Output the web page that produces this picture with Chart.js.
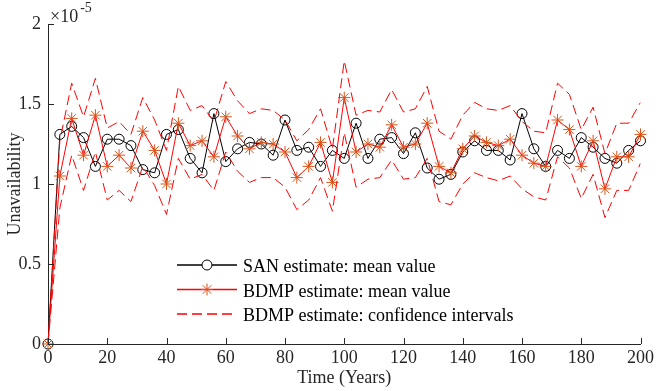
<!DOCTYPE html>
<html>
<head>
<meta charset="utf-8">
<script src="https://cdn.jsdelivr.net/npm/chart.js@4.4.1/dist/chart.umd.min.js"></script>
<style>
    html, body { margin: 0; padding: 0; background: #fff; }
    #wrap { width: 657px; height: 391px; position: relative; }
</style>
</head>
<body>
<div id="wrap"><canvas id="unavChart"></canvas></div>
<script>
// Time points (years)
const years = [0, 4, 8, 12, 16, 20, 24, 28, 32, 36, 40, 44, 48, 52, 56, 60, 64, 68, 72, 76,
    80, 84, 88, 92, 96, 100, 104, 108, 112, 116, 120, 124, 128, 132, 136, 140, 144, 148, 152, 156,
    160, 164, 168, 172, 176, 180, 184, 188, 192, 196, 200];

// Unavailability values, in units of 1e-5
const sanMean = [0, 1.31, 1.36, 1.29, 1.11, 1.28, 1.28, 1.24, 1.09, 1.07, 1.31, 1.34, 1.16, 1.07, 1.44, 1.14, 1.22, 1.26, 1.25, 1.18,
    1.40, 1.21, 1.23, 1.11, 1.21, 1.16, 1.38, 1.16, 1.28, 1.29, 1.19, 1.32, 1.10, 1.03, 1.06, 1.20, 1.27, 1.21, 1.21, 1.15,
    1.44, 1.22, 1.11, 1.21, 1.16, 1.29, 1.23, 1.16, 1.13, 1.21, 1.27];

const bdmpMean = [0, 1.05, 1.41, 1.18, 1.43, 1.11, 1.18, 1.10, 1.33, 1.21, 1.00, 1.38, 1.24, 1.27, 1.17, 1.42, 1.30, 1.22, 1.26, 1.25,
    1.20, 1.04, 1.11, 1.26, 1.01, 1.54, 1.20, 1.25, 1.23, 1.37, 1.23, 1.25, 1.38, 1.11, 1.07, 1.22, 1.30, 1.26, 1.24, 1.28,
    1.18, 1.13, 1.11, 1.40, 1.34, 1.11, 1.27, 0.97, 1.17, 1.17, 1.31];

const bdmpUpper = [0, 1.27, 1.63, 1.42, 1.66, 1.35, 1.39, 1.31, 1.54, 1.40, 1.21, 1.61, 1.46, 1.49, 1.39, 1.64, 1.52, 1.44, 1.47, 1.46,
    1.40, 1.27, 1.34, 1.47, 1.22, 1.77, 1.43, 1.46, 1.45, 1.59, 1.45, 1.47, 1.61, 1.33, 1.28, 1.43, 1.51, 1.47, 1.46, 1.49,
    1.39, 1.33, 1.32, 1.63, 1.56, 1.34, 1.48, 1.19, 1.38, 1.38, 1.51];

const bdmpLower = [0, 0.85, 1.18, 0.96, 1.20, 0.90, 0.96, 0.89, 1.11, 0.99, 0.81, 1.16, 1.03, 1.06, 0.96, 1.20, 1.08, 1.01, 1.04, 1.04,
    0.98, 0.84, 0.90, 1.04, 0.83, 1.32, 0.98, 1.03, 1.04, 1.15, 1.03, 1.04, 1.16, 0.89, 0.87, 1.00, 1.07, 1.04, 1.02, 1.05,
    0.97, 0.92, 0.90, 1.17, 1.10, 0.91, 1.06, 0.79, 0.96, 0.96, 1.13];

const xTicks = [0, 20, 40, 60, 80, 100, 120, 140, 160, 180, 200];
const yTicks = [0, 0.5, 1, 1.5, 2];

const FONT = 'Liberation Serif';
const AXIS_COLOR = '#262626';
const ORANGE = '#D95319';
const DASH = [10, 5];

function pairs(ys) {
    return years.map((x, i) => ({ x: x, y: ys[i] }));
}

// Draw the inward tick marks, the x10^-5 multiplier and the legend
const extrasPlugin = {
    id: 'extras',
    afterDraw(chart) {
        const ctx = chart.ctx;
        const xs = chart.scales.x;
        const ys = chart.scales.y;
        const area = chart.chartArea;
        ctx.save();

        // tick marks pointing into the plot
        ctx.strokeStyle = AXIS_COLOR;
        ctx.lineWidth = 1;
        ctx.beginPath();
        xTicks.forEach(v => {
            const px = Math.round(xs.getPixelForValue(v)) + 0.5;
            ctx.moveTo(px, area.bottom);
            ctx.lineTo(px, area.bottom - 6);
        });
        yTicks.forEach(v => {
            const py = Math.round(ys.getPixelForValue(v)) + 0.5;
            ctx.moveTo(area.left, py);
            ctx.lineTo(area.left + 6, py);
        });
        ctx.stroke();

        // exponent label
        ctx.fillStyle = AXIS_COLOR;
        ctx.textBaseline = 'alphabetic';
        ctx.textAlign = 'left';
        ctx.font = '18px "' + FONT + '"';
        ctx.fillText('\u00d710', 50, 22);
        const w = ctx.measureText('\u00d710').width;
        ctx.font = '14px "' + FONT + '"';
        ctx.fillText('-5', 50 + w + 2, 12);

        // legend
        const rows = [
            { label: 'SAN estimate: mean value', color: '#000000', dash: [], marker: 'circle' },
            { label: 'BDMP estimate: mean value', color: '#FF0000', dash: [], marker: 'star' },
            { label: 'BDMP estimate: confidence intervals', color: '#FF0000', dash: DASH, marker: null }
        ];
        const x0 = 177, x1 = 237, tx = 243;
        rows.forEach((r, i) => {
            const y = 265 + i * 24.5;
            ctx.strokeStyle = r.color;
            ctx.lineWidth = 1.5;
            ctx.setLineDash(r.dash);
            ctx.beginPath();
            ctx.moveTo(x0, y);
            ctx.lineTo(x1, y);
            ctx.stroke();
            ctx.setLineDash([]);
            const mx = (x0 + x1) / 2;
            if (r.marker === 'circle') {
                ctx.strokeStyle = '#000';
                ctx.fillStyle = '#fff';
                ctx.lineWidth = 1;
                ctx.beginPath();
                ctx.arc(mx, y, 5, 0, Math.PI * 2);
                ctx.fill();
                ctx.stroke();
            } else if (r.marker === 'star') {
                ctx.strokeStyle = ORANGE;
                ctx.lineWidth = 1;
                ctx.beginPath();
                const s = 6, d = s * 0.7071;
                ctx.moveTo(mx - s, y); ctx.lineTo(mx + s, y);
                ctx.moveTo(mx, y - s); ctx.lineTo(mx, y + s);
                ctx.moveTo(mx - d, y - d); ctx.lineTo(mx + d, y + d);
                ctx.moveTo(mx - d, y + d); ctx.lineTo(mx + d, y - d);
                ctx.stroke();
            }
            ctx.fillStyle = '#000';
            ctx.font = '18px "' + FONT + '"';
            ctx.fillText(r.label, tx, y + 7);
        });
        ctx.restore();
    }
};

function createChart() {
    const ctx = document.getElementById('unavChart').getContext('2d');

    new Chart(ctx, {
        type: 'line',
        data: {
            datasets: [{
                label: 'SAN estimate: mean value',
                data: pairs(sanMean),
                borderColor: '#000000',
                borderWidth: 1,
                pointStyle: 'circle',
                pointRadius: 5,
                pointBorderColor: '#000000',
                pointBackgroundColor: 'rgba(0,0,0,0)',
                pointBorderWidth: 1,
                tension: 0,
                clip: false,
                order: 3
            }, {
                label: 'BDMP estimate: mean value',
                data: pairs(bdmpMean),
                borderColor: '#FF0000',
                borderWidth: 1,
                pointStyle: 'star',
                pointRadius: 6,
                pointBorderColor: ORANGE,
                pointBackgroundColor: ORANGE,
                pointBorderWidth: 1,
                tension: 0,
                clip: false,
                order: 2
            }, {
                label: 'BDMP estimate: confidence intervals',
                data: pairs(bdmpUpper),
                borderColor: '#FF0000',
                borderWidth: 1,
                borderDash: DASH,
                pointRadius: 0,
                tension: 0,
                order: 1
            }, {
                label: 'BDMP lower',
                data: pairs(bdmpLower),
                borderColor: '#FF0000',
                borderWidth: 1,
                borderDash: DASH,
                pointRadius: 0,
                tension: 0,
                order: 1
            }]
        },
        options: {
            responsive: true,
            maintainAspectRatio: false,
            animation: false,
            devicePixelRatio: 1,
            layout: { padding: { top: 24, right: 14, left: 0, bottom: 0 } },
            plugins: {
                legend: { display: false },
                tooltip: { enabled: false }
            },
            scales: {
                x: {
                    type: 'linear',
                    min: 0,
                    max: 200,
                    afterBuildTicks: scale => { scale.ticks = xTicks.map(v => ({ value: v })); },
                    afterFit: scale => { scale.height = 47; },
                    ticks: {
                        color: AXIS_COLOR,
                        font: { family: FONT, size: 18 },
                        padding: 3,
                        maxRotation: 0,
                        autoSkip: false,
                        callback: v => String(v)
                    },
                    grid: { display: false, drawTicks: false },
                    border: { display: true, color: AXIS_COLOR, width: 1 },
                    title: {
                        display: true,
                        text: 'Time (Years)',
                        color: AXIS_COLOR,
                        font: { family: FONT, size: 18 },
                        padding: { top: 0, bottom: 2 }
                    }
                },
                y: {
                    type: 'linear',
                    min: 0,
                    max: 2,
                    afterBuildTicks: scale => { scale.ticks = yTicks.map(v => ({ value: v })); },
                    afterFit: scale => { scale.width = 48; },
                    ticks: {
                        color: AXIS_COLOR,
                        font: { family: FONT, size: 18 },
                        padding: 7,
                        callback: v => String(v)
                    },
                    grid: { display: false, drawTicks: false },
                    border: { display: true, color: AXIS_COLOR, width: 1 },
                    title: {
                        display: true,
                        text: 'Unavailability',
                        color: AXIS_COLOR,
                        font: { family: FONT, size: 18 },
                        padding: { top: 4, bottom: 0 }
                    }
                }
            }
        },
        plugins: [extrasPlugin]
    });
}

createChart();
</script>
</body>
</html>
